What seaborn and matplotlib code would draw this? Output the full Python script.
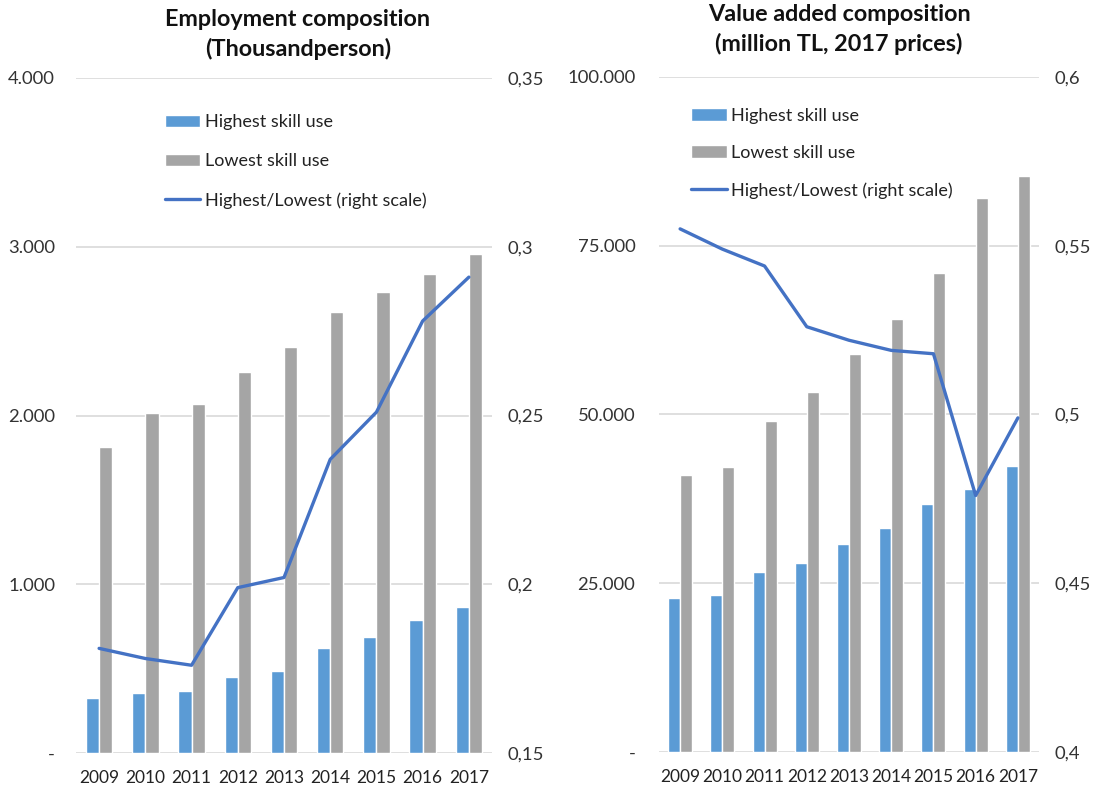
import numpy as np
import pandas as pd
import matplotlib
matplotlib.use("Agg")
import matplotlib.pyplot as plt
import seaborn as sns
from matplotlib.ticker import FuncFormatter

years = ["2009", "2010", "2011", "2012", "2013", "2014", "2015", "2016", "2017"]

# Employment (thousand persons)
emp_highest = [328, 357, 367, 448, 486, 620, 686, 788, 863]
emp_lowest = [1815, 2012, 2071, 2256, 2404, 2615, 2730, 2837, 2955]
emp_ratio = [0.181, 0.178, 0.176, 0.199, 0.202, 0.237, 0.251, 0.278, 0.291]

# Value added (million TL, 2017 prices)
va_highest = [22800, 23200, 26700, 28000, 30800, 33200, 36700, 38900, 42400]
va_lowest = [41100, 42200, 49000, 53400, 59000, 64100, 71000, 82000, 85300]
va_ratio = [0.555, 0.549, 0.544, 0.526, 0.522, 0.519, 0.518, 0.476, 0.499]

series_names = ["Highest skill use", "Lowest skill use", "Highest/Lowest (right scale)"]

BLUE = "#5B9BD5"
GRAY = "#A5A5A5"
LINE = "#4472C4"
GRID = "#D9D9D9"
TXT = "#333333"

sns.set_theme(style="white")
plt.rcParams["font.family"] = ["Lato", "DejaVu Sans"]


def thousands(v, _):
    if abs(v) < 1e-9:
        return "-"
    return f"{v:,.0f}".replace(",", ".")


def decimal_comma(v, _):
    s = f"{v:.2f}".rstrip("0").rstrip(".")
    return s.replace(".", ",")


def panel(fig, rect, highest, lowest, ratio, ylim, yticks, rlim, rticks,
          title, title_xy, legend_anchor, lspacing, lpad, rpad):
    ax = fig.add_axes(rect)
    df = pd.DataFrame({
        "year": years * 2,
        "value": list(highest) + list(lowest),
        "series": [series_names[0]] * len(years) + [series_names[1]] * len(years),
    })
    sns.barplot(data=df, x="year", y="value", hue="series",
                palette=[BLUE, GRAY], width=0.57, gap=0, ax=ax,
                saturation=1, legend=True)
    handles, labels = ax.get_legend_handles_labels()
    ax.get_legend().remove()

    ax.set_ylim(*ylim)
    ax.set_yticks(yticks)
    ax.yaxis.set_major_formatter(FuncFormatter(thousands))
    ax.set_xlim(-0.5, len(years) - 0.5)
    ax.grid(axis="y", color=GRID, linewidth=1.2)
    ax.set_axisbelow(True)
    ax.set_xlabel("")
    ax.set_ylabel("")
    for s in ax.spines.values():
        s.set_visible(False)
    ax.tick_params(axis="y", length=0, pad=lpad, labelsize=13.3, labelcolor=TXT)
    ax.tick_params(axis="x", length=0, pad=12, labelsize=12.5, labelcolor="#222222")

    ax2 = ax.twinx()
    line_df = pd.DataFrame({"pos": np.arange(len(years)), "ratio": ratio})
    sns.lineplot(data=line_df, x="pos", y="ratio", color=LINE, linewidth=2.4,
                 ax=ax2, label=series_names[2])
    h2, l2 = ax2.get_legend_handles_labels()
    ax2.get_legend().remove()
    ax2.set_ylim(*rlim)
    ax2.set_yticks(rticks)
    ax2.yaxis.set_major_formatter(FuncFormatter(decimal_comma))
    ax2.set_ylabel("")
    ax2.set_xlim(-0.5, len(years) - 0.5)
    for s in ax2.spines.values():
        s.set_visible(False)
    ax2.tick_params(axis="y", length=0, pad=rpad, labelsize=13.3, labelcolor=TXT)

    leg = ax2.legend(handles + h2, labels + l2, loc="upper left",
                     bbox_to_anchor=legend_anchor, frameon=False,
                     fontsize=13, handlelength=1.95, handletextpad=0.25,
                     labelspacing=lspacing, borderaxespad=0)
    for t in leg.get_texts():
        t.set_color("#222222")

    fig.text(title_xy[0], title_xy[1], title, ha="center", va="top",
             fontsize=16.8, fontweight="bold", color="#111111",
             linespacing=1.45)
    return ax, ax2


fig = plt.figure(figsize=(10.96, 7.91), dpi=100)
W, H = 1096, 791

panel(fig, [76 / W, 1 - 753 / H, 416 / W, 675 / H],
      emp_highest, emp_lowest, emp_ratio,
      (0, 4000), [0, 1000, 2000, 3000, 4000],
      (0.15, 0.35), [0.15, 0.2, 0.25, 0.3, 0.35],
      "Employment composition\n(Thousandperson)", (298 / W, 1 - 9 / H),
      (0.197, 0.957), 1.27, 15, 11.5)

panel(fig, [659 / W, 1 - 752 / H, 380 / W, 675 / H],
      va_highest, va_lowest, va_ratio,
      (0, 100000), [0, 25000, 50000, 75000, 100000],
      (0.4, 0.6), [0.4, 0.45, 0.5, 0.55, 0.6],
      "Value added composition\n(million TL, 2017 prices)", (839 / W, 1 - 4 / H),
      (0.066, 0.965), 1.17, 17, 11)

fig.savefig("out.png", dpi=100, facecolor="white")
